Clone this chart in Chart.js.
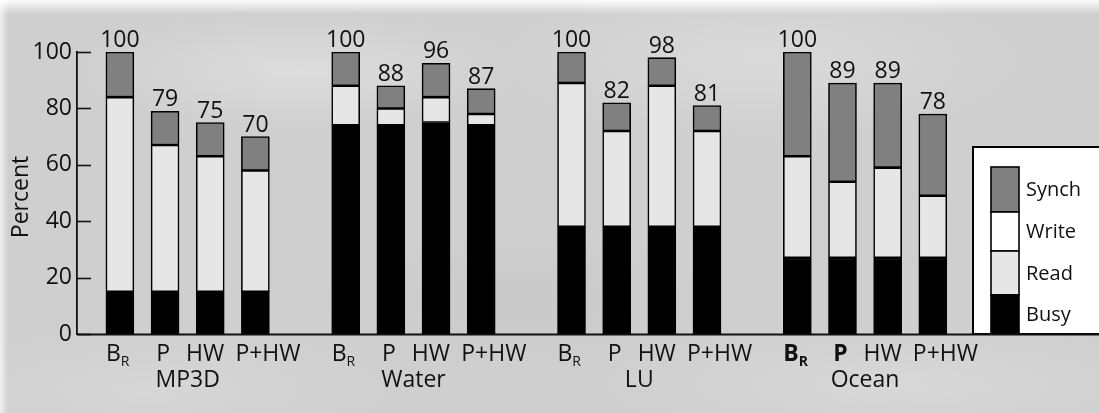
<!DOCTYPE html>
<html>
<head>
<meta charset="utf-8">
<script src="https://cdn.jsdelivr.net/npm/chart.js@4/dist/chart.umd.min.js"></script>
<style>
  html, body { margin: 0; padding: 0; }
  body {
    width: 1099px; height: 413px; overflow: hidden;
    background:
      linear-gradient(to bottom, rgba(255,255,255,0.95) 0px, rgba(255,255,255,0) 14px),
      linear-gradient(to right, rgba(255,255,255,0.7) 0px, rgba(255,255,255,0) 8px),
      radial-gradient(ellipse 220px 60px at 300px 70px, rgba(230,230,230,0.6), rgba(230,230,230,0)),
      radial-gradient(ellipse 260px 80px at 760px 60px, rgba(228,228,228,0.55), rgba(228,228,228,0)),
      radial-gradient(ellipse 200px 70px at 520px 300px, rgba(190,190,190,0.35), rgba(190,190,190,0)),
      radial-gradient(ellipse 240px 60px at 150px 390px, rgba(222,222,222,0.5), rgba(222,222,222,0)),
      radial-gradient(ellipse 300px 60px at 900px 385px, rgba(225,225,225,0.5), rgba(225,225,225,0)),
      #cfcfcf;
  }
  #wrap { position: absolute; left: 0; top: 0; width: 1099px; height: 413px; }
</style>
</head>
<body>
<div id="wrap"><canvas id="chart" width="1099" height="413"></canvas></div>
<script>
// Benchmarks and the four machine configurations shown for each
const groups = ['MP3D', 'Water', 'LU', 'Ocean'];
const configs = ['B_R', 'P', 'HW', 'P+HW'];

// Execution-time breakdown, percent of the base run (4 bars per benchmark)
const busy  = [15, 15, 15, 15,   74, 74, 75, 74,   38, 38, 38, 38,   27, 27, 27, 27];
const read  = [69, 52, 48, 43,   14,  6,  9,  4,   51, 34, 50, 34,   36, 27, 32, 22];
const write = [ 0,  0,  0,  0,    0,  0,  0,  0,    0,  0,  0,  0,    0,  0,  0,  0];
const synch = [16, 12, 12, 12,   12,  8, 12,  9,   11, 10, 10,  9,   37, 35, 30, 29];

const seriesNames = ['Busy', 'Read', 'Write', 'Synch'];
const yTicks = [0, 20, 40, 60, 80, 100];

// Labels drawn in bold
const emphasized = { Ocean: ['B_R', 'P'] };

const FONT = '"Open Sans", "Noto Sans", sans-serif';
const FS = 23;
const COLORS = { Busy: '#000000', Read: '#e6e6e6', Write: '#ffffff', Synch: '#808080' };
const BAR_W = 28;

// how each configuration label sits under its bar
const labelAnchor = {
  'B_R':  { align: 'left',   dx: -BAR_W / 2 },
  'P':    { align: 'center', dx: -2 },
  'HW':   { align: 'right',  dx: BAR_W / 2 },
  'P+HW': { align: 'left',   dx: -BAR_W / 2 - 6 }
};

// slot index on the x axis: one empty slot between benchmarks
function slotOf(g, j) { return g * (configs.length + 1) + j + 1; }

function toPoints(values) {
  return values.map((v, i) => ({ x: slotOf(Math.floor(i / configs.length), i % configs.length), y: v }));
}

const seriesValues = { Busy: busy, Read: read, Write: write, Synch: synch };

const datasets = seriesNames.map(name => ({
  label: name,
  data: toPoints(seriesValues[name]),
  backgroundColor: COLORS[name],
  borderColor: '#000',
  borderWidth: 1.6,
  borderSkipped: false,
  barThickness: BAR_W,
  stack: 's'
}));

const overlay = {
  id: 'overlay',
  afterDraw(chart) {
    const { ctx, chartArea } = chart;
    const xs = chart.scales.x, ys = chart.scales.y;
    ctx.save();

    // inward tick marks on the y axis
    ctx.strokeStyle = '#111';
    ctx.lineWidth = 1.6;
    yTicks.forEach(t => {
      const y = Math.round(ys.getPixelForValue(t)) + 0.5;
      ctx.beginPath();
      ctx.moveTo(chartArea.left, y);
      ctx.lineTo(chartArea.left + 14, y);
      ctx.stroke();
    });

    // axis title
    ctx.fillStyle = '#111';
    ctx.font = FS + 'px ' + FONT;
    ctx.textAlign = 'center';
    ctx.textBaseline = 'middle';
    ctx.save();
    ctx.translate(21, 197);
    ctx.rotate(-Math.PI / 2);
    ctx.fillText('Percent', 0, 0);
    ctx.restore();

    // totals above each bar
    ctx.textBaseline = 'alphabetic';
    ctx.textAlign = 'center';
    ctx.font = FS + 'px ' + FONT;
    busy.forEach((b, i) => {
      const total = b + read[i] + write[i] + synch[i];
      const g = Math.floor(i / configs.length), j = i % configs.length;
      const x = xs.getPixelForValue(slotOf(g, j));
      const y = ys.getPixelForValue(total);
      ctx.fillText(String(total), x, y - 5);
    });

    // configuration labels and benchmark names
    groups.forEach((gName, g) => {
      configs.forEach((c, j) => {
        const x = xs.getPixelForValue(slotOf(g, j));
        const bold = (emphasized[gName] || []).includes(c);
        const weight = bold ? 'bold ' : '';
        const a = labelAnchor[c];
        if (c === 'B_R') {
          ctx.font = weight + FS + 'px ' + FONT;
          const wB = ctx.measureText('B').width;
          const left = x + a.dx;
          ctx.textAlign = 'left';
          ctx.fillText('B', left, 361);
          ctx.font = weight + '14px ' + FONT;
          ctx.fillText('R', left + wB, 366);
        } else {
          ctx.textAlign = a.align;
          ctx.font = weight + FS + 'px ' + FONT;
          ctx.fillText(c, x + a.dx, 361);
        }
      });
      const cx = (xs.getPixelForValue(slotOf(g, 0)) + xs.getPixelForValue(slotOf(g, configs.length - 1))) / 2;
      ctx.textAlign = 'center';
      ctx.font = FS + 'px ' + FONT;
      ctx.fillText(gName, cx, 387);
    });

    // legend box
    const lx = 973, ly = 147, lb = Math.round(ys.getPixelForValue(0));
    ctx.fillStyle = '#fff';
    ctx.fillRect(lx, ly, 140, lb - ly);
    ctx.strokeStyle = '#000';
    ctx.lineWidth = 2;
    ctx.strokeRect(lx, ly, 140, lb - ly);
    const sx = 991, sw = 28;
    const bounds = [167, 212, 251, 295, lb];
    const order = ['Synch', 'Write', 'Read', 'Busy'];
    ctx.font = '20px ' + FONT;
    ctx.textAlign = 'left';
    ctx.textBaseline = 'middle';
    order.forEach((name, k) => {
      const top = bounds[k], bot = bounds[k + 1];
      ctx.fillStyle = COLORS[name];
      ctx.fillRect(sx, top, sw, bot - top);
      ctx.lineWidth = 1.6;
      ctx.strokeStyle = '#000';
      ctx.strokeRect(sx, top, sw, bot - top);
      ctx.fillStyle = '#111';
      ctx.fillText(name, 1026, (top + bot) / 2 + 1);
    });

    // baseline across the full width
    ctx.strokeStyle = '#111';
    ctx.lineWidth = 1.8;
    ctx.beginPath();
    ctx.moveTo(chartArea.left, lb + 0.5);
    ctx.lineTo(1099, lb + 0.5);
    ctx.stroke();

    ctx.restore();
  }
};

new Chart(document.getElementById('chart'), {
  type: 'bar',
  data: { datasets },
  plugins: [overlay],
  options: {
    responsive: false,
    animation: false,
    layout: { padding: { left: 0, right: 0, top: 52, bottom: 79 } },
    plugins: { legend: { display: false }, tooltip: { enabled: false } },
    scales: {
      x: {
        type: 'linear',
        stacked: true,
        min: 0.05,
        max: 22.68,
        offset: false,
        afterFit(scale) { scale.height = 0; },
        grid: { display: false },
        border: { display: false },
        ticks: { display: false }
      },
      y: {
        stacked: true,
        min: 0,
        max: 100,
        afterBuildTicks(scale) { scale.ticks = yTicks.map(v => ({ value: v })); },
        afterFit(scale) { scale.width = 77; },
        grid: { display: false, drawTicks: false },
        border: { display: true, color: '#111', width: 1.8 },
        ticks: {
          padding: 5,
          color: '#111',
          font: { family: FONT, size: FS }
        }
      }
    }
  }
});
</script>
</body>
</html>
